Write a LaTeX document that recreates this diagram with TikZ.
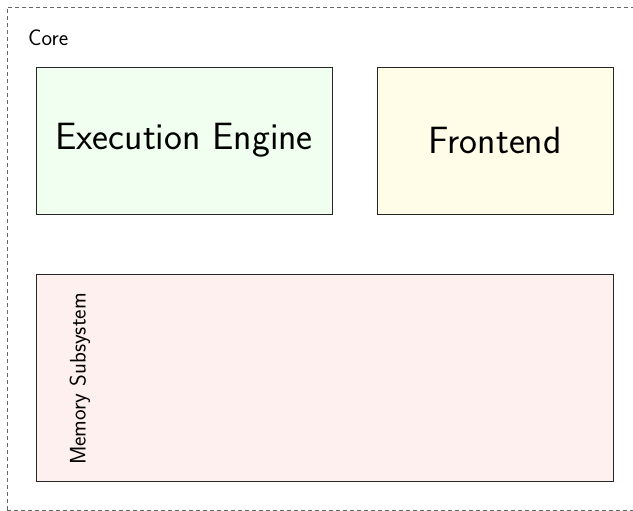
\documentclass[tikz,border=0pt]{standalone}
\usepackage{tikz}
\usetikzlibrary{positioning}

\definecolor{engfill}{HTML}{F0FFF0}
\definecolor{frontfill}{HTML}{FFFDE8}
\definecolor{memfill}{HTML}{FFF0F0}

\begin{document}
\begin{tikzpicture}[
      x=1pt, y=-1pt,
      font=\sffamily,
      unit/.style={rectangle,draw=black!85,line width=0.7pt,inner sep=0pt},
      group/.style={rectangle,draw=black!60,dash pattern=on 4pt off 3pt,line width=0.7pt,inner sep=0pt}
    ]
    \useasboundingbox (0,0) rectangle (633,511);
    \node[group,anchor=north west,minimum width=640pt,minimum height=503pt] (core) at (7,7) {};
    \node[anchor=west,inner sep=0pt,font=\sffamily\fontsize{22.5}{26}\selectfont] (corelbl) at (28,38) {Core};

    \node[unit,fill=engfill,minimum width=296pt,minimum height=147pt,font=\sffamily\fontsize{38}{42}\selectfont] (engine) at (184,140.5) {Execution Engine};
    \node[unit,fill=frontfill,minimum width=236pt,minimum height=147pt,font=\sffamily\fontsize{38}{42}\selectfont] (frontend) at (495,140.5) {Frontend};
    \node[unit,fill=memfill,minimum width=577pt,minimum height=207pt] (memory) at (324.5,377.5) {};
    \node[rotate=90,font=\sffamily\fontsize{22.5}{26}\selectfont] (memlbl) at (80,379) {Memory Subsystem};
  \end{tikzpicture}
\end{document}
